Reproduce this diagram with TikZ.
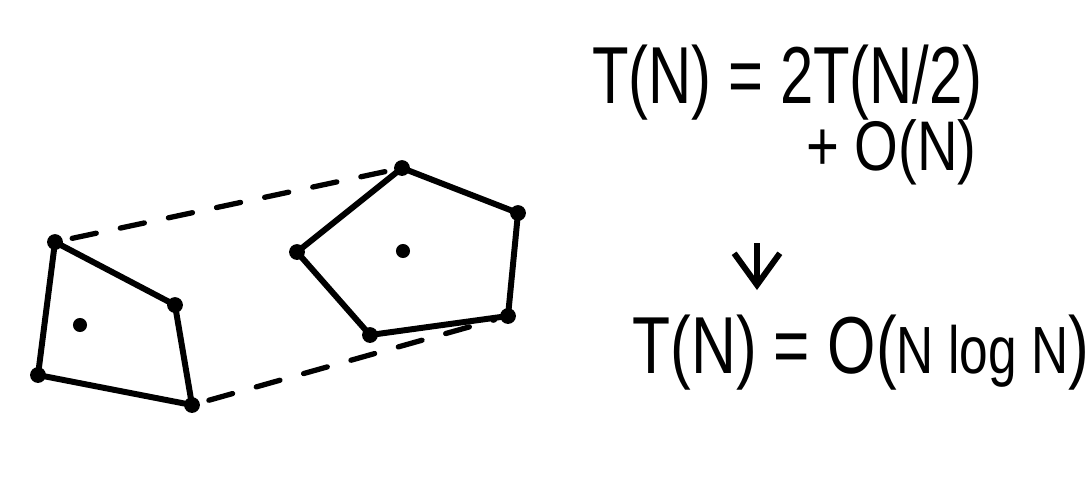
\documentclass[tikz,border=0pt]{standalone}
\usepackage{fontspec}
\usepackage{graphicx}
\setmainfont{Liberation Sans}
\usetikzlibrary{arrows.meta}
\tikzset{
  edge/.style={line width=3.4pt, line join=round, line cap=round},
  dashedge/.style={line width=3pt, line cap=round, dash pattern=on 14pt off 14pt, shorten <=10pt, shorten >=8pt},
  vert/.style={circle, fill=black, inner sep=0pt, minimum size=9pt},
  cdot/.style={circle, fill=black, inner sep=0pt, minimum size=8pt},
  eq/.style={inner sep=0pt, font=\fontsize{46}{50}\selectfont},
  eqsmall/.style={inner sep=0pt, font=\fontsize{40}{44}\selectfont}
}
\begin{document}
\begin{tikzpicture}[x=0.02cm, y=-0.02cm]
\useasboundingbox (0,0) rectangle (1090,478);
% left quadrilateral
\node[vert] (qa) at (55,242) {};
\node[vert] (qb) at (175,305) {};
\node[vert] (qc) at (192,405) {};
\node[vert] (qd) at (38,375) {};
\node[cdot] (qm) at (80,325) {};
\draw[edge] (qa.center) -- (qb.center) -- (qc.center) -- (qd.center) -- cycle;
% right pentagon
\node[vert] (pa) at (402,168) {};
\node[vert] (pb) at (518,213) {};
\node[vert] (pc) at (508,316) {};
\node[vert] (pd) at (370,335) {};
\node[vert] (pe) at (297,252) {};
\node[cdot] (pm) at (403,251) {};
\draw[edge] (pa.center) -- (pb.center) -- (pc.center) -- (pd.center) -- (pe.center) -- cycle;
% dashed connectors
\draw[dashedge] (qa.center) -- (pa.center);
\draw[dashedge] (qc.center) -- (pc.center);
% equations
\node[eq, anchor=west] (e1) at (592,83) {\scalebox{0.74}[1]{T(N) = 2T(N/2)}};
\node[eqsmall, anchor=west] (e2) at (806,152) {\scalebox{0.8}[1]{+ O(N)}};
\node[eq, anchor=west] (e3) at (632,353) {\scalebox{0.77}[1]{T(N) = O({\fontsize{38}{40}\selectfont N log N})}};
\coordinate (at) at (757,243);
\coordinate (ab) at (757,290);
\draw[line width=3.4pt, -{Straight Barb[length=18pt, width=26pt, line width=3.4pt]}] (at) -- (ab);
\end{tikzpicture}
\end{document}
